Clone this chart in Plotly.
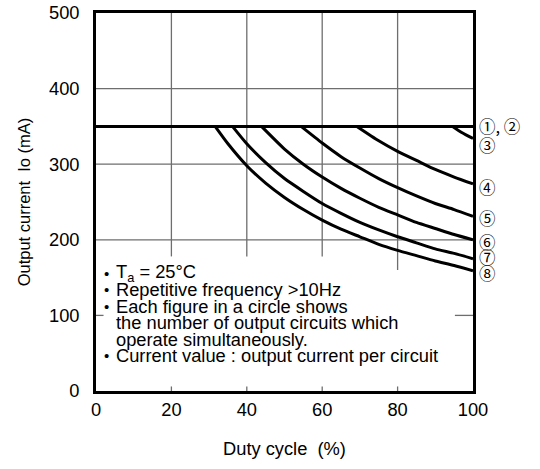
import plotly.graph_objects as go

# ---- data ----
duty_c12 = [0, 100]
cur_c12 = [350, 350]

duty_c3 = [94.6, 97, 100]
cur_c3 = [350, 342, 334]

duty_c4 = [69.2, 75, 80, 85, 90, 95, 100]
cur_c4 = [350, 331, 317, 305, 293, 283, 274]

duty_c5 = [54.4, 60, 65, 70, 75, 80, 85, 90, 95, 100]
cur_c5 = [350, 328, 310, 295, 281, 269, 258, 248, 240, 231]

duty_c6 = [43.9, 50, 55, 60, 65, 70, 75, 80, 85, 90, 95, 100]
cur_c6 = [350, 320, 300, 283, 268, 255, 243, 233, 223, 215, 207, 200]

duty_c7 = [36.2, 40, 45, 50, 55, 60, 65, 70, 75, 80, 85, 90, 95, 100]
cur_c7 = [350, 327, 302, 281, 264, 248, 235, 223, 213, 204, 196, 188, 182, 175]

duty_c8 = [31.6, 35, 40, 45, 50, 55, 60, 65, 70, 75, 80, 85, 90, 95, 100]
cur_c8 = [350, 327, 298, 275, 256, 240, 226, 214, 204, 194, 186, 179, 172, 166, 159]

x_ticks = [0, 20, 40, 60, 80, 100]
y_ticks = [0, 100, 200, 300, 400, 500]

curve_labels = ["①, ②", "③", "④", "⑤", "⑥", "⑦", "⑧"]
label_y = [350, 326, 270, 229, 197, 177, 156]

notes = [
    ("•", "T<sub>a</sub> = 25°C"),
    ("•", "Repetitive frequency >10Hz"),
    ("•", "Each figure in a circle shows"),
    ("", "the number of output circuits which"),
    ("", "operate simultaneously."),
    ("•", "Current value : output current per circuit"),
]

FONT = "Liberation Sans, Arial, sans-serif"

fig = go.Figure()

series = [
    (duty_c12, cur_c12), (duty_c3, cur_c3), (duty_c4, cur_c4), (duty_c5, cur_c5),
    (duty_c6, cur_c6), (duty_c7, cur_c7), (duty_c8, cur_c8),
]
for xs, ys in series:
    fig.add_trace(go.Scatter(
        x=xs, y=ys, mode="lines",
        line=dict(color="black", width=3, shape="spline", smoothing=0.6),
        showlegend=False, hoverinfo="skip", cliponaxis=False,
    ))

grid = dict(color="#6e6e6e", width=1.3)
shapes = []
# partial vertical grid lines (interrupted by the note box)
for gx, gy0 in [(20, 178), (40, 178), (60, 178), (80, 160)]:
    shapes.append(dict(type="line", x0=gx, x1=gx, y0=gy0, y1=500, line=grid, layer="below"))
    shapes.append(dict(type="line", x0=gx, x1=gx, y0=0, y1=6, line=grid, layer="below"))
for gy in [200, 300, 400]:
    shapes.append(dict(type="line", x0=0, x1=100, y0=gy, y1=gy, line=grid, layer="below"))
shapes.append(dict(type="line", x0=0, x1=2, y0=100, y1=100, line=grid, layer="below"))
shapes.append(dict(type="line", x0=95.2, x1=100, y0=100, y1=100, line=grid, layer="below"))

annotations = []
for lab, ly in zip(curve_labels, label_y):
    annotations.append(dict(
        x=1.01, xref="paper", y=ly, yref="y", text=lab, showarrow=False,
        xanchor="left", yanchor="middle",
        font=dict(family="Noto Sans CJK JP, DejaVu Sans", size=16.5, color="black"),
    ))

# note lines, positioned in paper fractions of the plot area
line_top = 273.5
line_step = 16.4
for i, (bul, txt) in enumerate(notes):
    py = line_top + i * line_step
    yp = (391 - py) / 378
    if bul:
        annotations.append(dict(
            x=(102 - 96) / 377, xref="paper", y=yp, yref="paper", text=bul,
            showarrow=False, xanchor="left", yanchor="middle",
            font=dict(family=FONT, size=15, color="black"),
        ))
    annotations.append(dict(
        x=(114 - 96) / 377, xref="paper", y=yp, yref="paper", text=txt,
        showarrow=False, xanchor="left", yanchor="middle",
        font=dict(family=FONT, size=18.3, color="black"),
    ))

axis_common = dict(
    showline=True, linecolor="black", linewidth=2.6, mirror=True,
    showgrid=False, zeroline=False, ticks="", automargin=False,
    ticklabeloverflow="allow",
    tickfont=dict(family=FONT, size=18.3, color="black"),
)

fig.update_layout(
    width=540, height=469,
    margin=dict(l=96, r=67, t=13, b=78),
    paper_bgcolor="white", plot_bgcolor="white",
    shapes=shapes, annotations=annotations,
    xaxis=dict(
        range=[0, 100], tickvals=x_ticks, ticktext=[str(v) for v in x_ticks],
        title=dict(text="Duty cycle\u00a0\u00a0(%)", font=dict(family=FONT, size=18.3, color="black"), standoff=24),
        ticklabelstandoff=0,
        **axis_common,
    ),
    yaxis=dict(
        range=[0, 500], tickvals=y_ticks, ticktext=[str(v) for v in y_ticks],
        title=dict(text="Output current\u00a0\u00a0Io (mA)", font=dict(family=FONT, size=16.5, color="black"), standoff=15),
        ticklabelstandoff=10,
        **axis_common,
    ),
)

# remove the default 8px page margin so the 540x469 figure fills the window exactly
fig.write_html(
    "out.html",
    config={"displayModeBar": False},
    post_script="document.body.style.margin='0';document.body.style.overflow='hidden';",
)
